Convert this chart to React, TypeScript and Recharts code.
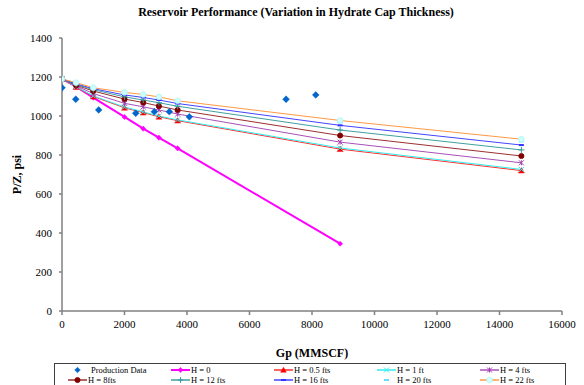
import React from 'react';
import { ComposedChart, Line, Scatter, XAxis, YAxis } from 'recharts';

// ---- data ----
const gpSim = [0, 450, 1000, 2000, 2600, 3100, 3700, 8900, 14700];
const gpH0 = [0, 450, 1000, 2000, 2600, 3100, 3700, 8900];
const pzH0 = [1190, 1150, 1094, 995, 935, 889, 834, 345];
const pzH05 = [1190, 1148, 1100, 1042, 1017, 996, 976, 830, 720];
const pzH1 = [1190, 1150, 1103, 1046, 1021, 1000, 980, 836, 726];
const pzH4 = [1190, 1155, 1115, 1065, 1047, 1031, 1010, 866, 760];
const pzH8 = [1190, 1158, 1128, 1087, 1069, 1051, 1031, 900, 795];
const pzH12 = [1190, 1162, 1135, 1098, 1082, 1068, 1050, 928, 826];
const pzH16 = [1190, 1165, 1140, 1108, 1095, 1082, 1064, 952, 851];
const pzH20 = [1190, 1169, 1142, 1116, 1105, 1093, 1072, 968, 870];
const pzH22 = [1190, 1171, 1145, 1121, 1110, 1098, 1078, 977, 881];
const gpProd = [0, 440, 1175, 2360, 2955, 3435, 4075, 7170, 8120];
const pzProd = [1145, 1086, 1031, 1014, 1022, 1022, 996, 1086, 1108];
const xTicks = [0, 2000, 4000, 6000, 8000, 10000, 12000, 14000, 16000];
const yTicks = [0, 200, 400, 600, 800, 1000, 1200, 1400];

const toPts = (xs: number[], ys: number[]) => xs.map((x, i) => ({ x, y: ys[i] }));

type Shape = 'diamond' | 'triangle' | 'x' | 'star' | 'circle' | 'plus' | 'dash' | 'sq';

interface SeriesCfg {
  name: string;
  data: { x: number; y: number }[];
  line: string | null;
  width: number;
  shape: Shape;
  fill: string;
  stroke: string;
  size: number;
}

const series: SeriesCfg[] = [
  { name: 'H = 0', data: toPts(gpH0, pzH0), line: '#FF00FF', width: 2, shape: 'diamond', fill: '#FF00FF', stroke: '#FF00FF', size: 2.6 },
  { name: 'H = 0.5 fts', data: toPts(gpSim, pzH05), line: '#FF3030', width: 1, shape: 'triangle', fill: '#FF0000', stroke: '#FF0000', size: 3 },
  { name: 'H = 1 ft', data: toPts(gpSim, pzH1), line: '#33EEEE', width: 1, shape: 'x', fill: 'none', stroke: '#33EEEE', size: 2.5 },
  { name: 'H = 4 fts', data: toPts(gpSim, pzH4), line: '#A850B8', width: 1, shape: 'star', fill: 'none', stroke: '#A040B0', size: 2.5 },
  { name: 'H = 8fts', data: toPts(gpSim, pzH8), line: '#9B3030', width: 1, shape: 'circle', fill: '#800000', stroke: '#800000', size: 2.6 },
  { name: 'H = 12 fts', data: toPts(gpSim, pzH12), line: '#40A0A0', width: 1, shape: 'plus', fill: 'none', stroke: '#339999', size: 3 },
  { name: 'H = 16 fts', data: toPts(gpSim, pzH16), line: '#4444FF', width: 1, shape: 'dash', fill: '#3333FF', stroke: '#3333FF', size: 2.5 },
  { name: 'H = 20 fts', data: toPts(gpSim, pzH20), line: null, width: 0, shape: 'dash', fill: '#66DDFF', stroke: '#66DDFF', size: 2.5 },
  { name: 'H = 22 fts', data: toPts(gpSim, pzH22), line: '#FF9944', width: 1, shape: 'circle', fill: '#CCFFFF', stroke: '#B0F4F4', size: 2.8 },
];

const prodData = toPts(gpProd, pzProd);

const Marker = ({ shape, cx, cy, fill, stroke, size }: { shape: Shape; cx: number; cy: number; fill: string; stroke: string; size: number }) => {
  if (cx == null || cy == null || isNaN(cx) || isNaN(cy)) return <g />;
  const s = size;
  switch (shape) {
    case 'diamond':
      return <polygon points={`${cx},${cy - s} ${cx + s},${cy} ${cx},${cy + s} ${cx - s},${cy}`} fill={fill} stroke={stroke} strokeWidth={0.5} />;
    case 'sq':
      return <rect x={cx - s} y={cy - s} width={2 * s} height={2 * s} fill={fill} stroke={stroke} />;
    case 'triangle':
      return <polygon points={`${cx},${cy - s} ${cx + s},${cy + s * 0.8} ${cx - s},${cy + s * 0.8}`} fill={fill} stroke={stroke} strokeWidth={0.5} />;
    case 'x':
      return (
        <g stroke={stroke} strokeWidth={1}>
          <line x1={cx - s} y1={cy - s} x2={cx + s} y2={cy + s} />
          <line x1={cx - s} y1={cy + s} x2={cx + s} y2={cy - s} />
        </g>
      );
    case 'star':
      return (
        <g stroke={stroke} strokeWidth={1}>
          <line x1={cx - s} y1={cy - s} x2={cx + s} y2={cy + s} />
          <line x1={cx - s} y1={cy + s} x2={cx + s} y2={cy - s} />
          <line x1={cx} y1={cy - s} x2={cx} y2={cy + s} />
        </g>
      );
    case 'circle':
      return <circle cx={cx} cy={cy} r={s} fill={fill} stroke={stroke} strokeWidth={0.8} />;
    case 'plus':
      return (
        <g stroke={stroke} strokeWidth={1}>
          <line x1={cx - s} y1={cy} x2={cx + s} y2={cy} />
          <line x1={cx} y1={cy - s} x2={cx} y2={cy + s} />
        </g>
      );
    case 'dash':
      return <rect x={cx - s} y={cy - 1} width={2 * s} height={2} fill={fill} />;
    default:
      return <g />;
  }
};

const FONT = 'Liberation Serif';

const YLabel = (props: any) => {
  const vb = props.viewBox || {};
  const cx = 17;
  const cy = (vb.y ?? 38) + (vb.height ?? 273) / 2;
  return (
    <text x={cx} y={cy} transform={`rotate(-90 ${cx} ${cy})`} textAnchor="middle" dominantBaseline="central"
      fontFamily={FONT} fontWeight="bold" fontSize={12} fill="#000">
      P/Z, psi
    </text>
  );
};

const XLabel = (props: any) => {
  const vb = props.viewBox || {};
  const cx = (vb.x ?? 62) + (vb.width ?? 500) / 2;
  const cy = 353;
  return (
    <text x={cx} y={cy} textAnchor="middle" dominantBaseline="central" fontFamily={FONT} fontWeight="bold" fontSize={12} fill="#000">
      Gp (MMSCF)
    </text>
  );
};

const XTick = (props: any) => {
  const { x, y, payload } = props;
  return (
    <text x={x} y={y + 3} textAnchor="middle" dominantBaseline="hanging" fontFamily={FONT} fontSize={11} fill="#000">
      {payload.value}
    </text>
  );
};

const YTick = (props: any) => {
  const { x, y, payload } = props;
  return (
    <text x={x} y={y} textAnchor="end" dominantBaseline="central" fontFamily={FONT} fontSize={11} fill="#000">
      {payload.value}
    </text>
  );
};

const legendItems: { name: string; cfg: SeriesCfg | null }[] = [
  { name: 'Production Data', cfg: null },
  ...series.map((s) => ({ name: s.name, cfg: s })),
];

const LegendSymbol = ({ cfg }: { cfg: SeriesCfg | null }) => (
  <svg width={19} height={10} style={{ display: 'block' }}>
    {cfg && cfg.line ? <line x1={0} y1={5} x2={19} y2={5} stroke={cfg.line} strokeWidth={cfg.width > 1.5 ? 2 : 1.5} /> : null}
    {cfg ? (
      <Marker shape={cfg.shape} cx={9.5} cy={5} fill={cfg.fill} stroke={cfg.stroke} size={Math.min(cfg.size, 2.8)} />
    ) : (
      <Marker shape="diamond" cx={9.5} cy={5} fill="#0066CC" stroke="#0066CC" size={2.8} />
    )}
  </svg>
);

export default function App() {
  return (
    <div style={{ position: 'absolute', left: 0, top: 0, width: 584, height: 385, background: '#fff', overflow: 'hidden', fontFamily: FONT }}>
      <div style={{ position: 'absolute', left: 0, top: 5, width: 592, textAlign: 'center', fontFamily: FONT, fontWeight: 'bold', fontSize: 12, color: '#000' }}>
        Reservoir Performance (Variation in Hydrate Cap Thickness)
      </div>
      <ComposedChart width={584} height={385} margin={{ top: 38, right: 22, bottom: 0, left: 0 }}>
        <XAxis xAxisId="x" type="number" dataKey="x" domain={[0, 16000]} ticks={xTicks} allowDataOverflow
          height={74} stroke="#808080" strokeWidth={1.5} tickSize={4} tickMargin={2}
          tick={<XTick />} label={<XLabel />} />
        <XAxis xAxisId="top" type="number" orientation="top" domain={[0, 16000]} height={0} tick={false} tickLine={false}
          stroke="#808080" strokeWidth={1.5} />
        <YAxis yAxisId="y" type="number" domain={[0, 1400]} ticks={yTicks} allowDataOverflow width={62}
          stroke="#808080" strokeWidth={1.5} tickSize={3} tickMargin={7}
          tick={<YTick />} label={<YLabel />} />
        <YAxis yAxisId="right" type="number" orientation="right" domain={[0, 1400]} width={0} tick={false} tickLine={false}
          stroke="#808080" strokeWidth={1.5} />
        {series.map((s) => (
          <Line key={s.name} xAxisId="x" yAxisId="y" data={s.data} dataKey="y" name={s.name} type="linear"
            stroke={s.line ?? 'none'} strokeWidth={s.width} isAnimationActive={false} legendType="none"
            dot={(p: any) => <Marker key={`${s.name}-${p.index}`} shape={s.shape} cx={p.cx} cy={p.cy} fill={s.fill} stroke={s.stroke} size={s.size} />}
            activeDot={false} />
        ))}
        <Scatter xAxisId="x" yAxisId="y" data={prodData} dataKey="y" name="Production Data" isAnimationActive={false}
          shape={(p: any) => <Marker shape="diamond" cx={p.cx} cy={p.cy} fill="#0066CC" stroke="#0066CC" size={3.4} />} />
      </ComposedChart>
      <div style={{ position: 'absolute', left: 54, top: 363, width: 512, height: 30, border: '1px solid #404040', boxSizing: 'border-box', fontFamily: FONT, fontSize: 8.5, color: '#000' }}>
        {legendItems.map((it, i) => {
          const col = i % 5;
          const row = Math.floor(i / 5);
          return (
            <div key={it.name} style={{ position: 'absolute', left: 13 + col * 103, top: 1 + row * 9.5, display: 'flex', alignItems: 'center', height: 10, whiteSpace: 'nowrap' }}>
              <LegendSymbol cfg={it.cfg} />
              <span style={{ marginLeft: it.cfg ? 1 : 4, lineHeight: '10px' }}>{it.name}</span>
            </div>
          );
        })}
      </div>
    </div>
  );
}
